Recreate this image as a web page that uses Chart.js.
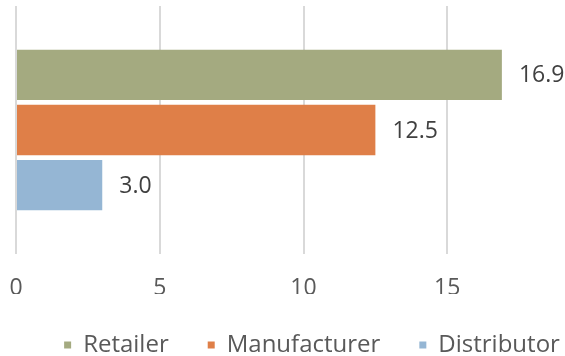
<!DOCTYPE html>
<html>
<head>
<meta charset="utf-8">
<script src="https://cdn.jsdelivr.net/npm/chart.js@4/dist/chart.umd.min.js"></script>
<style>
    html, body { margin: 0; padding: 0; background: #fff; overflow: hidden; }
    #wrap { width: 624px; height: 356px; }
</style>
</head>
<body>
<div id="wrap"><canvas id="roleChart" width="624" height="356"></canvas></div>
<script>
// one category, one bar per role
const categories = [''];
const seriesNames = ['Retailer', 'Manufacturer', 'Distributor'];
const seriesValues = [[16.9], [12.5], [3.0]];
const seriesColors = ['#a4aa80', '#df7f48', '#95b6d4'];
const xTicks = [0, 5, 10, 15, 20];

const FONT = '"Open Sans", sans-serif';

// writes the value just to the right of each bar
const valueLabels = {
    id: 'valueLabels',
    afterDatasetsDraw(chart) {
        const ctx = chart.ctx;
        ctx.save();
        ctx.font = '23px ' + FONT;
        ctx.fillStyle = '#404040';
        ctx.textAlign = 'left';
        ctx.textBaseline = 'middle';
        chart.data.datasets.forEach((ds, i) => {
            chart.getDatasetMeta(i).data.forEach((bar, j) => {
                ctx.fillText(ds.data[j].toFixed(1), bar.x + 17, bar.y + 1);
            });
        });
        ctx.restore();
    }
};

const ctx = document.getElementById('roleChart').getContext('2d');

new Chart(ctx, {
    type: 'bar',
    data: {
        labels: categories,
        datasets: seriesNames.map((name, i) => ({
            label: name,
            data: seriesValues[i],
            backgroundColor: seriesColors[i],
            borderWidth: 0,
            categoryPercentage: 0.668,
            barPercentage: 0.91
        }))
    },
    options: {
        indexAxis: 'y',
        responsive: false,
        animation: false,
        layout: { padding: { left: 0, top: 6, right: 0, bottom: -11 } },
        plugins: {
            legend: {
                position: 'bottom',
                labels: {
                    boxWidth: 7,
                    boxHeight: 7,
                    padding: 39,
                    color: '#595959',
                    font: { family: FONT, size: 24 }
                }
            },
            tooltip: { enabled: false }
        },
        scales: {
            x: {
                min: xTicks[0],
                max: xTicks[xTicks.length - 1],
                afterBuildTicks: axis => {
                    axis.ticks = xTicks.map(v => ({ value: v }));
                },
                // short axis band; side room set here so the legend stays centred on the canvas
                afterFit: axis => {
                    axis.height = 40;
                    axis.paddingLeft = 16;
                    axis.paddingRight = 33;
                },
                ticks: {
                    color: '#595959',
                    padding: 21,
                    font: { family: FONT, size: 23 }
                },
                grid: { color: '#d9d9d9', lineWidth: 2, drawTicks: false },
                border: { display: false }
            },
            y: { display: false }
        }
    },
    plugins: [valueLabels]
});
</script>
</body>
</html>
